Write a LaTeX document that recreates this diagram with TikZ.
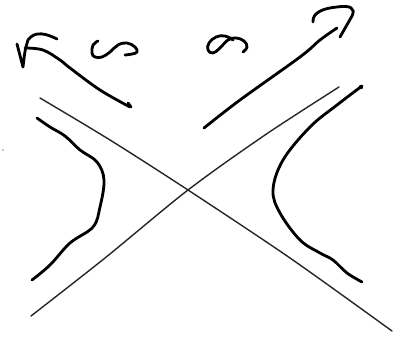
\documentclass[tikz,border=0pt]{standalone}
\usepackage{tikz}

\tikzset{
    inkpen/.style={line width=2pt, line cap=round, line join=round, black},
    asym/.style={line width=1pt, line cap=round, black!85}
}

\begin{document}
\begin{tikzpicture}[x=0.025cm, y=-0.025cm]
\useasboundingbox (0,0) rectangle (400,340);

% asymptotes
\draw[asym] plot[smooth] coordinates {(40,98) (110,140) (188,190) (290,258) (392,331)};
\draw[asym] plot[smooth] coordinates {(31,316) (105,258) (188,190) (265,135) (339,87)};

% left branch
\draw[inkpen] plot[smooth, tension=0.6] coordinates {(37,118) (50,127) (65,136) (80,150) (97,162) (104,180) (100,207) (93,227) (70,243) (50,265) (32,280)};
% right branch
\draw[inkpen] plot[smooth, tension=0.6] coordinates {(362,86) (337,105) (310,127) (283,160) (273,190) (280,213) (300,240) (320,253) (333,260) (347,273) (362,282)};
\fill (361,87) circle (2.2);

% upper left arrow
\draw[inkpen] plot[smooth, tension=0.6] coordinates {(130,107) (100,90) (70,68) (60,60) (43,50) (25,48)};
\draw[inkpen] (128,103) -- (131,107);
\draw[inkpen] (57,39) .. controls (47,34) and (35,30) .. (28,40) .. controls (25,50) .. (23,67) -- (17,44);

% upper right arrow
\draw[inkpen] plot[smooth, tension=0.6] coordinates {(204,128) (240,100) (300,57) (320,40) (337,28)};
\draw[inkpen] (313,22) .. controls (312,12) and (325,8) .. (337,7) .. controls (350,5) and (356,8) .. (352,16) -- (340,37);

% left loop
\draw[inkpen] plot[smooth, tension=0.7] coordinates {(98,41) (93,45) (92,53) (95,57) (102,57) (110,52) (118,45) (127,43) (135,47) (137,52) (132,54) (125,55)};
% right loop
\draw[inkpen] plot[smooth, tension=0.7] coordinates {(243,52) (247,47) (244,41) (236,38) (228,40) (220,48) (213,53) (208,50) (209,43) (216,37) (225,36) (233,40)};

% speck
\fill (3,150) circle (0.6);
\end{tikzpicture}
\end{document}
